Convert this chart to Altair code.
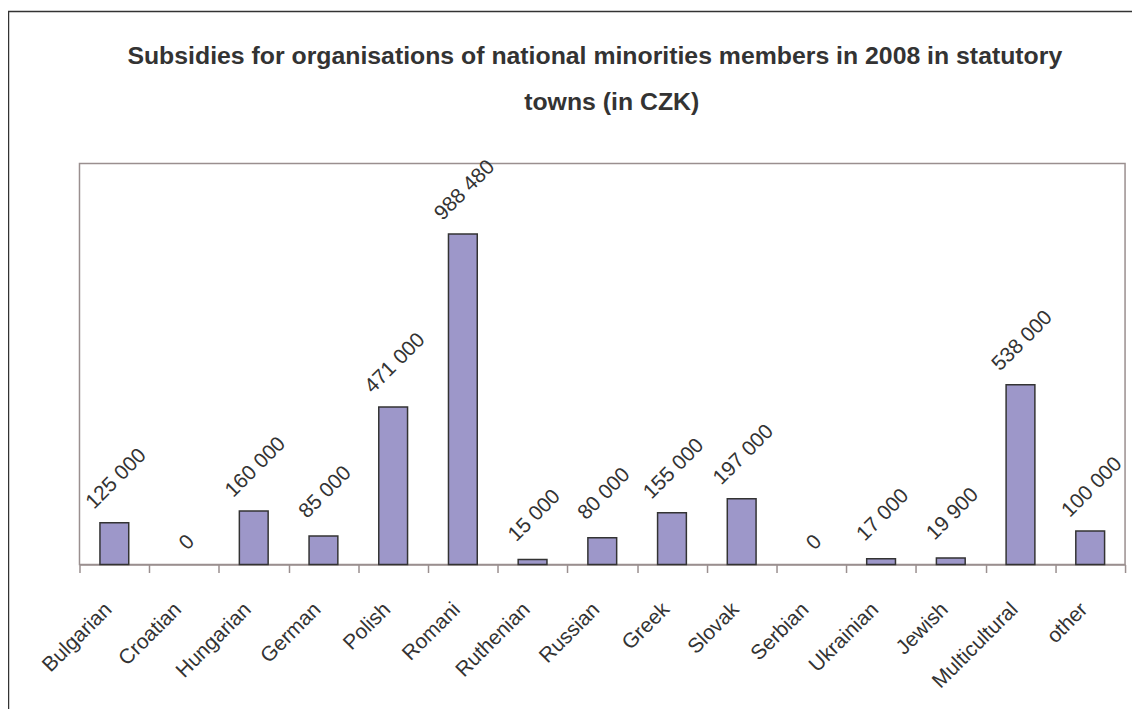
import altair as alt
import pandas as pd

categories = ["Bulgarian", "Croatian", "Hungarian", "German", "Polish", "Romani",
              "Ruthenian", "Russian", "Greek", "Slovak", "Serbian", "Ukrainian",
              "Jewish", "Multicultural", "other"]
values = [125000, 0, 160000, 85000, 471000, 988480, 15000, 80000, 155000,
          197000, 0, 17000, 19900, 538000, 100000]
title_lines = ["Subsidies for organisations of national minorities members in 2008 in statutory",
               "towns (in CZK)"]

df = pd.DataFrame({"category": categories, "value": values})

FONT = "Liberation Sans, Arial, sans-serif"
GRID = "#9a8f8f"
TEXT = "#333333"

x = alt.X("category:N", sort=categories, title=None,
          scale=alt.Scale(paddingInner=0, paddingOuter=0),
          axis=alt.Axis(labelAngle=-45, labelAlign="right", labelBaseline="top",
                        labelFont=FONT, labelFontSize=21, labelColor=TEXT,
                        labelPadding=26, labelOffset=-14, tickBand="extent", tickSize=8,
                        tickColor=GRID, domainColor=GRID, domainWidth=1.5,
                        tickWidth=1.5, labelOverlap=False))
y = alt.Y("value:Q", title=None, scale=alt.Scale(domain=[0, 1200000], nice=False),
          axis=None)

base = alt.Chart(df).encode(x=x, y=y)

bars = base.transform_filter("datum.value > 0").mark_bar(
    color="#9d97c9", stroke="#333333", strokeWidth=1.5,
    width=alt.RelativeBandSize(0.413))

label_expr = "replace(format(datum.value, ','), regexp(',', 'g'), ' ')"

labels_nz = base.transform_filter("datum.value > 0").transform_calculate(
    lab=label_expr).mark_text(
    angle=315, align="center", baseline="middle", font=FONT, fontSize=21,
    color=TEXT, dx=32.5, dy=-29.7).encode(text="lab:N")

labels_z = base.transform_filter("datum.value == 0").transform_calculate(
    lab=label_expr).mark_text(
    angle=315, align="center", baseline="middle", font=FONT, fontSize=21,
    color=TEXT, dx=17.7, dy=-13.4).encode(text="lab:N")

border = alt.Chart(alt.Data(values=[{"a": 1}])).mark_rect(
    fill=None, stroke="#333333", strokeWidth=1.5).encode(
    x=alt.value(-71.5), x2=alt.value(1100), y=alt.value(-153), y2=alt.value(600))

title1 = alt.Chart(alt.Data(values=[{"t": title_lines[0]}])).mark_text(
    font=FONT, fontSize=25, fontWeight="bold", color=TEXT, align="center",
    baseline="alphabetic").encode(x=alt.value(519), y=alt.value(-100), text="t:N")
title2 = alt.Chart(alt.Data(values=[{"t": title_lines[1]}])).mark_text(
    font=FONT, fontSize=25, fontWeight="bold", color=TEXT, align="center",
    baseline="alphabetic").encode(x=alt.value(536), y=alt.value(-54), text="t:N")

chart = alt.layer(border, title1, title2, bars, labels_nz, labels_z).properties(
    width=1053, height=404,
    background="white",
    autosize=alt.AutoSizeParams(type="none"),
    padding={"left": 72, "top": 154, "right": 7, "bottom": 143},
).configure_view(stroke=GRID, strokeWidth=1.5)

chart.save("out.html", embed_options={"renderer": "svg", "actions": False})
